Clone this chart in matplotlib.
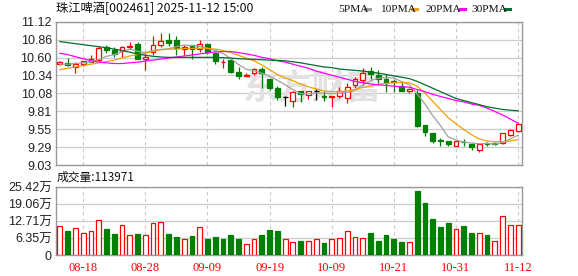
import matplotlib.pyplot as plt
import numpy as np
from matplotlib.lines import Line2D

plt.rcParams['font.family'] = ['Liberation Sans', 'Noto Sans CJK SC']

RED = '#ff0000'
GREEN = '#008000'

title = '珠江啤酒[002461] 2025-11-12 15:00'
last_volume = 113971

dates = ['08-13', '08-14', '08-15', '08-18', '08-19', '08-20', '08-21', '08-22', '08-25', '08-26',
         '08-27', '08-28', '08-29', '09-01', '09-02', '09-03', '09-04', '09-05', '09-08', '09-09',
         '09-10', '09-11', '09-12', '09-15', '09-16', '09-17', '09-18', '09-19', '09-22', '09-23',
         '09-24', '09-25', '09-26', '09-29', '09-30', '10-09', '10-10', '10-13', '10-14', '10-15',
         '10-16', '10-17', '10-20', '10-21', '10-22', '10-23', '10-24', '10-27', '10-28', '10-29',
         '10-30', '10-31', '11-03', '11-04', '11-05', '11-06', '11-07', '11-10', '11-11', '11-12']

opens = [10.50, 10.52, 10.46, 10.50, 10.535, 10.56, 10.745, 10.71, 10.69, 10.75,
         10.80, 10.58, 10.68, 10.78, 10.85, 10.85, 10.72, 10.775, 10.715, 10.795,
         10.665, 10.525, 10.56, 10.39, 10.335, 10.365, 10.425, 10.28, 10.15, 10.02,
         9.97, 10.105, 10.05, 10.105, 10.04, 10.02, 10.035, 10.00, 10.19, 10.27,
         10.40, 10.34, 10.29, 10.25, 10.18, 10.115, 10.085, 9.615, 9.49, 9.39,
         9.38, 9.31, 9.37, 9.34, 9.25, 9.345, 9.355, 9.355, 9.465, 9.53]
highs = [10.54, 10.585, 10.53, 10.55, 10.635, 10.765, 10.78, 10.745, 10.77, 10.82,
         10.82, 10.67, 10.91, 10.95, 10.95, 10.91, 10.78, 10.78, 10.86, 10.80,
         10.68, 10.57, 10.57, 10.46, 10.37, 10.44, 10.46, 10.29, 10.18, 10.03,
         10.11, 10.11, 10.11, 10.145, 10.105, 10.035, 10.17, 10.23, 10.31, 10.44,
         10.46, 10.42, 10.36, 10.28, 10.25, 10.15, 10.12, 9.615, 9.49, 9.42,
         9.38, 9.385, 9.41, 9.355, 9.355, 9.365, 9.37, 9.50, 9.56, 9.645]
lows = [10.49, 10.475, 10.375, 10.47, 10.525, 10.55, 10.66, 10.61, 10.61, 10.72,
        10.57, 10.42, 10.63, 10.755, 10.77, 10.635, 10.635, 10.57, 10.68, 10.645,
        10.51, 10.44, 10.365, 10.28, 10.33, 10.34, 10.16, 10.12, 9.98, 9.89,
        9.87, 9.95, 9.99, 9.98, 9.97, 9.88, 10.00, 9.93, 10.16, 10.20,
        10.29, 10.20, 10.10, 10.09, 10.105, 10.075, 9.58, 9.46, 9.355, 9.30,
        9.30, 9.30, 9.30, 9.25, 9.215, 9.31, 9.32, 9.335, 9.455, 9.515]
closes = [10.53, 10.49, 10.51, 10.54, 10.575, 10.74, 10.71, 10.65, 10.745, 10.77,
          10.58, 10.61, 10.78, 10.84, 10.81, 10.73, 10.755, 10.72, 10.79, 10.68,
          10.54, 10.535, 10.38, 10.33, 10.345, 10.43, 10.37, 10.15, 10.02, 10.02,
          10.10, 10.07, 10.105, 10.105, 10.02, 10.03, 10.105, 10.17, 10.28, 10.375,
          10.355, 10.29, 10.22, 10.24, 10.115, 10.145, 9.60, 9.505, 9.385, 9.38,
          9.33, 9.375, 9.365, 9.29, 9.34, 9.34, 9.335, 9.49, 9.54, 9.625]

ma5 = [10.50, 10.50, 10.51, 10.52, 10.53, 10.57, 10.615, 10.64, 10.685, 10.72,
       10.69, 10.67, 10.70, 10.715, 10.725, 10.755, 10.78, 10.77, 10.76, 10.735,
       10.70, 10.655, 10.585, 10.495, 10.425, 10.405, 10.37, 10.325, 10.265, 10.20,
       10.13, 10.07, 10.065, 10.08, 10.08, 10.07, 10.075, 10.09, 10.12, 10.195,
       10.26, 10.295, 10.305, 10.30, 10.245, 10.20, 10.065, 9.92, 9.75, 9.605,
       9.44, 9.395, 9.365, 9.35, 9.34, 9.345, 9.335, 9.36, 9.41, 9.465]
ma10 = [10.42, 10.44, 10.46, 10.48, 10.50, 10.52, 10.54, 10.56, 10.59, 10.62,
        10.64, 10.66, 10.69, 10.71, 10.72, 10.72, 10.73, 10.73, 10.73, 10.73,
        10.72, 10.70, 10.67, 10.63, 10.59, 10.55, 10.49, 10.42, 10.35, 10.30,
        10.26, 10.21, 10.17, 10.14, 10.11, 10.10, 10.10, 10.11, 10.13, 10.16,
        10.18, 10.21, 10.22, 10.23, 10.23, 10.23, 10.18, 10.08, 9.96, 9.84,
        9.72, 9.63, 9.55, 9.47, 9.41, 9.38, 9.37, 9.37, 9.38, 9.40]
ma20 = [10.66, 10.64, 10.61, 10.58, 10.55, 10.53, 10.52, 10.51, 10.51, 10.52,
        10.53, 10.545, 10.56, 10.575, 10.59, 10.605, 10.62, 10.635, 10.65, 10.665,
        10.68, 10.685, 10.685, 10.67, 10.65, 10.63, 10.60, 10.58, 10.55, 10.53,
        10.50, 10.47, 10.44, 10.40, 10.37, 10.34, 10.31, 10.28, 10.25, 10.23,
        10.21, 10.20, 10.19, 10.18, 10.17, 10.165, 10.13, 10.10, 10.06, 10.03,
        10.00, 9.97, 9.95, 9.92, 9.90, 9.86, 9.81, 9.76, 9.70, 9.64]
ma30 = [10.83, 10.815, 10.80, 10.785, 10.77, 10.755, 10.74, 10.72, 10.70, 10.675,
        10.65, 10.63, 10.615, 10.605, 10.60, 10.60, 10.60, 10.60, 10.60, 10.60,
        10.60, 10.595, 10.59, 10.58, 10.575, 10.57, 10.565, 10.56, 10.555, 10.55,
        10.535, 10.52, 10.50, 10.48, 10.46, 10.45, 10.43, 10.42, 10.41, 10.40,
        10.385, 10.37, 10.35, 10.33, 10.31, 10.29, 10.25, 10.20, 10.15, 10.10,
        10.05, 10.00, 9.97, 9.94, 9.91, 9.88, 9.86, 9.84, 9.83, 9.82]

# volume in 万手
volumes = [10.84, 8.97, 10.09, 8.22, 8.97, 13.08, 9.72, 7.85, 11.21, 7.48,
           7.85, 7.48, 11.96, 12.34, 7.85, 6.73, 5.98, 7.10, 10.47, 5.98,
           6.73, 5.98, 7.48, 5.98, 4.11, 5.98, 7.48, 9.35, 8.97, 5.98,
           4.86, 5.23, 5.23, 5.98, 4.49, 5.98, 6.36, 8.97, 6.73, 6.36,
           8.22, 5.23, 7.48, 5.98, 4.86, 4.86, 23.92, 19.44, 13.46, 10.47,
           11.96, 9.72, 10.84, 8.22, 8.22, 7.48, 5.23, 14.58, 11.21, 11.40]
vol_up = [1, 0, 1, 1, 1, 1, 0, 0, 1, 1,
          0, 1, 1, 1, 0, 0, 1, 0, 1, 0,
          0, 0, 0, 0, 1, 1, 0, 0, 0, 1,
          1, 0, 1, 1, 0, 1, 1, 1, 1, 1,
          0, 0, 0, 0, 0, 1, 0, 0, 0, 0,
          0, 1, 0, 0, 1, 0, 1, 1, 1, 1]

price_ticks = ['9.03', '9.29', '9.55', '9.81', '10.08', '10.34', '10.60', '10.86', '11.12']
vol_ticks = [0, 6.35, 12.71, 19.06, 25.42]
vol_tick_labels = ['0', '6.35万', '12.71万', '19.06万', '25.42万']
tick_labels = ['08-18', '08-28', '09-09', '09-19', '10-09', '10-21', '10-31', '11-12']

ma_names = ['5PMA', '10PMA', '20PMA', '30PMA']
ma_colors = ['#a0a0a0', '#f0a000', '#ff00ff', '#006e2e']

W, H = 578, 276
fig = plt.figure(figsize=(W / 100, H / 100), dpi=100)
ax = fig.add_axes([56 / W, 1 - 165 / H, 466 / W, 143.3 / H])
axv = fig.add_axes([56 / W, 1 - 255 / H, 466 / W, 68 / H])

x = np.arange(len(dates))
o = np.array(opens)
c = np.array(closes)
up = c > o
down = c < o
flat = c == o
wick_col = np.where(up, RED, np.where(down, GREEN, 'black'))
bw = 0.62

ax.vlines(x, lows, highs, colors=wick_col, lw=0.9, zorder=3)
ax.bar(x[up], (c - o)[up], bottom=o[up], width=bw, facecolor='white',
       edgecolor=RED, lw=0.9, zorder=4)
ax.bar(x[down], (o - c)[down], bottom=c[down], width=bw, facecolor=GREEN,
       edgecolor=GREEN, lw=0.9, zorder=4)
ax.hlines(c[flat], x[flat] - bw / 2, x[flat] + bw / 2, colors='black', lw=0.9, zorder=4)

for vals, col in zip([ma5, ma10, ma20, ma30], ma_colors):
    ax.plot(x, vals, color=col, lw=0.9, zorder=5)

tick_pos = [dates.index(t) for t in tick_labels]
for a in (ax, axv):
    a.set_xlim(-0.5, len(dates) - 0.5)
    a.set_xticks(tick_pos)
    a.grid(True, axis='x', color='#c8c8c8', ls=(0, (3, 3)), lw=0.8)
    a.grid(True, axis='y', color='#cccccc', ls='-', lw=0.9)
    a.set_axisbelow(True)
    a.tick_params(length=0, labelsize=9, labelcolor='#222222', pad=3)
    for s in a.spines.values():
        s.set_color('#999999')
        s.set_linewidth(1.0)

ax.set_ylim(9.03, 11.12)
ax.set_yticks(np.linspace(9.03, 11.12, len(price_ticks)))
ax.set_yticklabels(price_ticks)
ax.set_xticklabels([])

ax.text(0.55, 0.54, '东方财富', transform=ax.transAxes, fontsize=25,
        color='#e2e2e2', ha='center', va='center', family=['Noto Sans CJK SC'],
        fontweight='bold', zorder=1)

vu = np.array(vol_up) == 1
v = np.array(volumes)
axv.bar(x[vu], v[vu], width=bw, facecolor='white', edgecolor=RED, lw=0.9, zorder=3)
axv.bar(x[~vu], v[~vu], width=bw, facecolor=GREEN, edgecolor=GREEN, lw=0.9, zorder=3)
axv.set_ylim(0, 25.42)
axv.set_yticks(vol_ticks)
axv.set_yticklabels(vol_tick_labels)
axv.set_xticklabels(tick_labels, color=RED, fontsize=9, family=['Liberation Serif'])
axv.tick_params(axis='x', pad=5)

fig.text(56 / W, 1 - 8.8 / H, title, ha='left', va='center', fontsize=8.8,
         family=['Noto Sans CJK SC'], color='#111111')
fig.text(57 / W, 1 - 177.7 / H, '成交量:%d' % last_volume, ha='left', va='center',
         fontsize=8.5, family=['Noto Sans CJK SC'], color='#111111')

label_x = [338, 380, 425, 471]
mark_x = [365, 412, 460, 505]
for name, col, lx, mx in zip(ma_names, ma_colors, label_x, mark_x):
    fig.text(lx / W, 1 - 9 / H, name, ha='left', va='center', fontsize=8.2,
             family=['Liberation Serif'], color='#111111')
    fig.add_artist(Line2D([mx / W, (mx + 5) / W], [1 - 9.3 / H, 1 - 9.3 / H],
                          transform=fig.transFigure, color=col, lw=2.2))

fig.savefig('out.png', dpi=100)
